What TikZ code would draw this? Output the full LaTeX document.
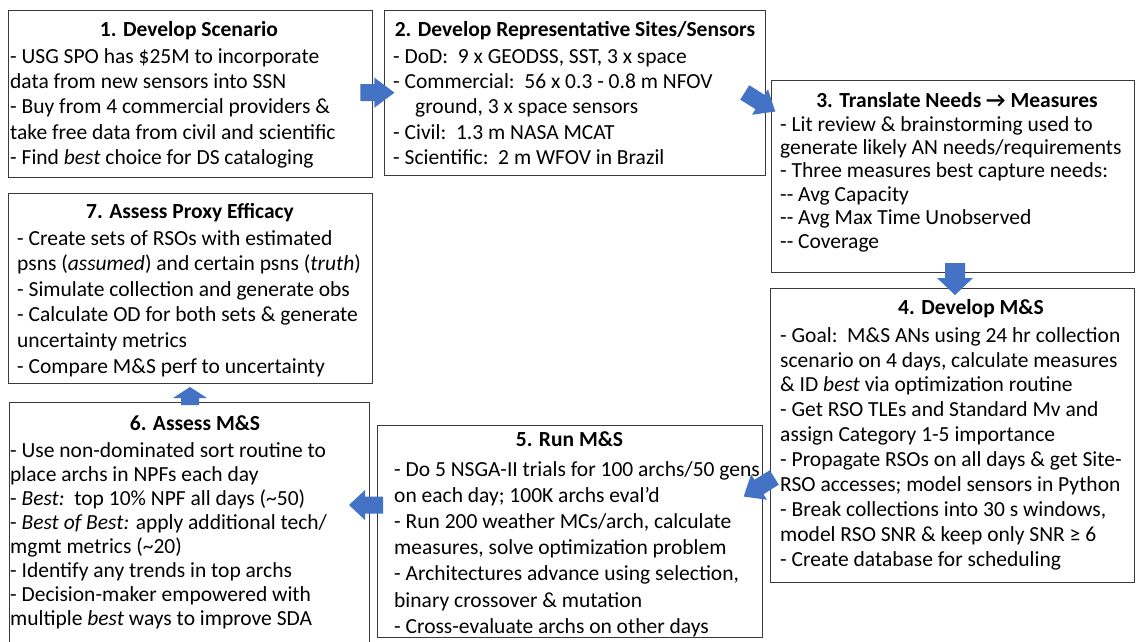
\documentclass[tikz,border=0pt]{standalone}
\usepackage{fontspec}
\setmainfont{Carlito}
\usetikzlibrary{calc}

\definecolor{arrowblue}{HTML}{4472C4}
\definecolor{framegray}{HTML}{3A3A3A}

% block arrow: name, centre, angle, half length, head length, shaft half width, head half width
\newcommand\blockarrow[7]{%
  \fill[arrowblue, shift={#2}, rotate=#3]
    (-#4,-#6) -- ({#4-#5},-#6) -- ({#4-#5},-#7) -- (#4,0)
    -- ({#4-#5},#7) -- ({#4-#5},#6) -- (-#4,#6) -- cycle;
  \coordinate (#1) at #2;}

% fixed-height strut so that every text block starts at the same height above its first baseline
\newcommand\firstline{\rule{0pt}{18pt}}

\begin{document}
\begin{tikzpicture}[x=1pt, y=-1pt,
  panel/.style={draw=framegray, line width=1.4pt, fill=white, inner sep=0pt, anchor=north west},
  heading/.style={anchor=base, inner sep=0pt, font=\fontsize{21.5}{25.3}\selectfont\bfseries},
  body/.style={anchor=north west, align=left, inner sep=0pt, yshift=13pt,
    font=\fontsize{21.5}{#1}\selectfont, execute at begin node=\firstline},
  body/.default=25.3]
\useasboundingbox (0,0) rectangle (1138,641);

% ---- panels ----
\node[panel, minimum width=363.5pt, minimum height=167pt] (b1) at (8,10) {};
\node[panel, minimum width=381pt, minimum height=165pt] (b2) at (384,10) {};
\node[panel, minimum width=363pt, minimum height=192pt] (b3) at (771,80) {};
\node[panel, minimum width=364pt, minimum height=294pt] (b4) at (770,288) {};
\node[panel, minimum width=385pt, minimum height=212pt] (b5) at (377,425) {};
\node[panel, minimum width=360pt, minimum height=246pt] (b6) at (9,402) {};
\node[panel, minimum width=364pt, minimum height=190pt] (b7) at (8,193) {};

% ---- 1 ----
\node[heading] (t1) at (189,36) {1. Develop Scenario};
\node[body] (x1) at (10,61) {- USG SPO has \$25M to incorporate\\
data from new sensors into SSN\\
- Buy from 4 commercial providers \&\\
take free data from civil and scientific\\
- Find \emph{best} choice for DS cataloging};

% ---- 2 ----
\node[heading] (t2) at (575,36) {2. Develop Representative Sites/Sensors};
\node[body] (x2) at (393,62) {- DoD:\ \ 9 x GEODSS, SST, 3 x space\\
- Commercial:\ \ 56 x 0.3 - 0.8 m NFOV\\
\hspace*{22pt}ground, 3 x space sensors\\
- Civil:\ \ 1.3 m NASA MCAT\\
- Scientific:\ \ 2 m WFOV in Brazil};

% ---- 3 ----
\node[heading] (t3) at (957,107) {3. Translate Needs → Measures};
\node[body=23.4] (x3) at (780,129) {- Lit review \& brainstorming used to\\
generate likely AN needs/requirements\\
- Three measures best capture needs:\\
-{}- Avg Capacity\\
-{}- Avg Max Time Unobserved\\
-{}- Coverage};

% ---- 4 ----
\node[heading] (t4) at (971,314) {4. Develop M\&S};
\node[body=24.9] (x4) at (780,340) {- Goal:\ \ M\&S ANs using 24 hr collection\\
scenario on 4 days, calculate measures\\
\& ID \emph{best} via optimization routine\\
- Get RSO TLEs and Standard Mv and\\
assign Category 1-5 importance\\
- Propagate RSOs on all days \& get Site-\\
RSO accesses; model sensors in Python\\
- Break collections into 30 s windows,\\
model RSO SNR \& keep only SNR ≥ 6\\
- Create database for scheduling};

% ---- 5 ----
\node[heading] (t5) at (569.5,446) {5. Run M\&S};
\node[body=26.2] (x5) at (394,474) {- Do 5 NSGA-II trials for 100 archs/50 gens\\
on each day; 100K archs eval’d\\
- Run 200 weather MCs/arch, calculate\\
measures, solve optimization problem\\
- Architectures advance using selection,\\
binary crossover \& mutation\\
- Cross-evaluate archs on other days};

% ---- 6 ----
\node[heading] (t6) at (195,430) {6. Assess M\&S};
\node[body=24.1] (x6) at (10,455) {- Use non-dominated sort routine to\\
place archs in NPFs each day\\
- \emph{Best:}\ \ top 10\% NPF all days (\textasciitilde50)\\
- \emph{Best of Best:} apply additional tech/\\
mgmt metrics (\textasciitilde20)\\
- Identify any trends in top archs\\
- Decision-maker empowered with\\
multiple \emph{best} ways to improve SDA};

% ---- 7 ----
\node[heading] (t7) at (190,218) {7. Assess Proxy Efficacy};
\node[body=25.6] (x7) at (17,243) {- Create sets of RSOs with estimated\\
psns (\emph{assumed}) and certain psns (\emph{truth})\\
- Simulate collection and generate obs\\
- Calculate OD for both sets \& generate\\
uncertainty metrics\\
- Compare M\&S perf to uncertainty};

% ---- flow arrows ----
\blockarrow{a12}{($(b1.east)!0.5!(b2.west)+(-1,-1)$)}{0}{17}{20}{8.5}{15}
\blockarrow{a23}{(760,102)}{-32}{18}{18}{8.5}{15}
\blockarrow{a34}{(955,279)}{-90}{16}{17}{10}{18}
\blockarrow{a45}{(759,487)}{212}{18}{18}{8.5}{15}
\blockarrow{a56}{(366,505)}{180}{17}{16}{8.5}{15}
\blockarrow{a67}{(190,396)}{90}{9}{11}{9}{17}
\end{tikzpicture}
\end{document}
